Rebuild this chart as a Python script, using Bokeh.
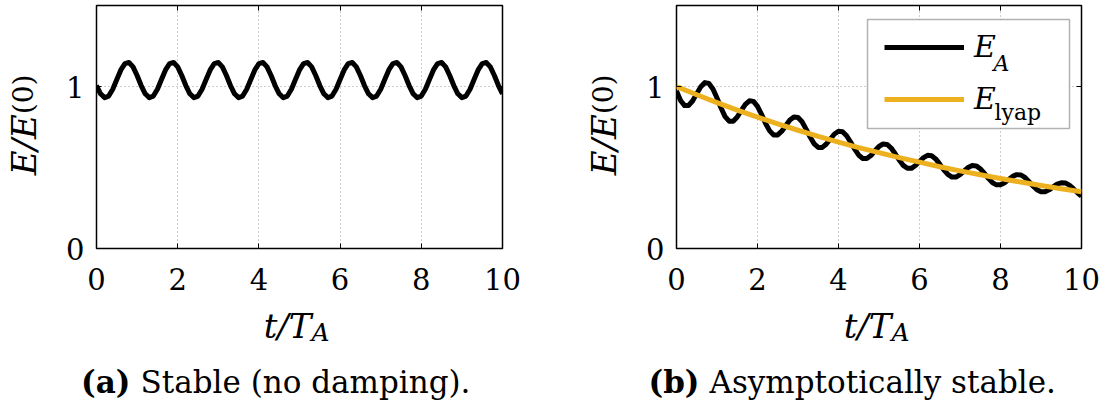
import math
from bokeh.plotting import figure
from bokeh.layouts import row, column
from bokeh.models import (Label, Legend, LegendItem, FixedTicker, Range1d,
                          BoxAnnotation, LinearAxis)
from bokeh.core.properties import value
from bokeh.embed import file_html
from bokeh.resources import INLINE

# ---------------- data ----------------
t = [i / 10 for i in range(101)]

e_stable = [
    1.006, 0.955, 0.931, 0.941, 0.983, 1.043, 1.102, 1.141, 1.148, 1.121, 1.068,
    1.006, 0.955, 0.931, 0.941, 0.983, 1.043, 1.102, 1.141, 1.148, 1.121, 1.068,
    1.006, 0.955, 0.931, 0.941, 0.983, 1.043, 1.102, 1.141, 1.148, 1.121, 1.068,
    1.006, 0.955, 0.931, 0.941, 0.983, 1.043, 1.102, 1.141, 1.148, 1.121, 1.068,
    1.006, 0.955, 0.931, 0.941, 0.983, 1.043, 1.102, 1.141, 1.148, 1.121, 1.068,
    1.006, 0.955, 0.931, 0.941, 0.983, 1.043, 1.102, 1.141, 1.148, 1.121, 1.068,
    1.006, 0.955, 0.931, 0.941, 0.983, 1.043, 1.102, 1.141, 1.148, 1.121, 1.068,
    1.006, 0.955, 0.931, 0.941, 0.983, 1.043, 1.102, 1.141, 1.148, 1.121, 1.068,
    1.006, 0.955, 0.931, 0.941, 0.983, 1.043, 1.102, 1.141, 1.148, 1.121, 1.068,
    1.006, 0.955,
]

e_damped = [
    0.973, 0.914, 0.882, 0.883, 0.912, 0.956, 0.999, 1.024, 1.019, 0.985, 0.929,
    0.867, 0.814, 0.786, 0.786, 0.812, 0.852, 0.890, 0.912, 0.908, 0.877, 0.828,
    0.772, 0.726, 0.700, 0.701, 0.724, 0.759, 0.793, 0.812, 0.809, 0.782, 0.737,
    0.688, 0.646, 0.624, 0.624, 0.645, 0.676, 0.707, 0.724, 0.721, 0.696, 0.657,
    0.613, 0.576, 0.556, 0.556, 0.574, 0.603, 0.630, 0.645, 0.642, 0.620, 0.585,
    0.546, 0.513, 0.495, 0.495, 0.512, 0.537, 0.561, 0.575, 0.572, 0.553, 0.521,
    0.486, 0.457, 0.441, 0.441, 0.456, 0.478, 0.500, 0.512, 0.510, 0.492, 0.465,
    0.433, 0.407, 0.393, 0.393, 0.406, 0.426, 0.445, 0.456, 0.454, 0.439, 0.414,
    0.386, 0.363, 0.350, 0.350, 0.362, 0.380, 0.397, 0.406, 0.405, 0.391, 0.369,
    0.344, 0.323,
]

t_lyap = [i / 2 for i in range(21)]
e_lyap = [1.000, 0.949, 0.900, 0.854, 0.811, 0.769, 0.730, 0.692, 0.657, 0.623,
          0.592, 0.561, 0.533, 0.505, 0.479, 0.455, 0.432, 0.410, 0.389, 0.369,
          0.350]

x_ticks = [0, 2, 4, 6, 8, 10]
y_ticks = [0, 1]
x_lim = (0, 10)
y_lim = (0, 1.5)

# ---------------- layout constants (page pixels) ----------------
FONT = "DejaVu Serif"
BLACK = "#000000"
YELLOW = "#EDB120"
COL_W = 553            # width of each panel column
TOP_H = 302            # height of the plot row
BOT_H = 103            # height of the text strip below
FRAME_TOP, FRAME_BOTTOM = 5, 248
FRAME_H = FRAME_BOTTOM - FRAME_TOP


def text_fig(w, h):
    f = figure(width=w, height=h, x_range=Range1d(0, w), y_range=Range1d(0, h),
               output_backend="svg", toolbar_location=None,
               x_axis_location=None, y_axis_location=None, min_border=0)
    f.outline_line_color = None
    f.grid.visible = False
    f.background_fill_color = "white"
    f.border_fill_color = "white"
    return f


def label(f, x, y, text, size, style="normal", align="left",
          baseline="alphabetic", angle=0.0):
    f.add_layout(Label(x=x, y=y, x_units="data", y_units="data", text=text,
                       text_font=FONT, text_font_size=size,
                       text_font_style=style, text_color=BLACK,
                       text_align=align, text_baseline=baseline,
                       angle=angle))


def style_axis(ax):
    ax.axis_line_color = None
    ax.major_tick_in = 5
    ax.major_tick_out = 0
    ax.major_tick_line_color = BLACK
    ax.major_tick_line_width = 1
    ax.minor_tick_line_color = None


def plot_fig(width, frame_left, frame_w):
    p = figure(width=width, height=TOP_H,
               x_range=Range1d(*x_lim), y_range=Range1d(*y_lim),
               output_backend="svg", toolbar_location=None,
               min_border_left=frame_left, min_border_right=width - frame_left - frame_w,
               min_border_top=FRAME_TOP,
               min_border_bottom=TOP_H - FRAME_BOTTOM)
    p.background_fill_color = "white"
    p.border_fill_color = "white"
    p.outline_line_color = BLACK
    p.outline_line_width = 1.5

    p.xaxis.ticker = FixedTicker(ticks=x_ticks)
    p.yaxis.ticker = FixedTicker(ticks=y_ticks)
    for ax in (p.xaxis[0], p.yaxis[0]):
        style_axis(ax)
        ax.major_label_text_font = FONT
        ax.major_label_text_font_size = "29px"
        ax.major_label_text_color = BLACK
    p.xaxis.major_label_standoff = 19
    p.yaxis.major_label_standoff = 12

    # mirrored inward ticks on the top and right edges (no labels)
    for loc, ticks in (("above", x_ticks), ("right", y_ticks)):
        ax = LinearAxis(ticker=FixedTicker(ticks=ticks),
                        major_label_overrides={k: "" for k in ticks},
                        major_label_text_font_size="1px",
                        major_label_standoff=0)
        style_axis(ax)
        p.add_layout(ax, loc)

    p.xgrid.ticker = FixedTicker(ticks=x_ticks)
    p.ygrid.ticker = FixedTicker(ticks=y_ticks)
    for g in (p.xgrid[0], p.ygrid[0]):
        g.grid_line_color = "#9a9a9a"
        g.grid_line_dash = "1 3"
        g.grid_line_width = 1
    return p


def y_label_fig(w, x_center):
    f = text_fig(w, TOP_H)
    junction = 135          # y where "E/E" meets "(0)" (from the top)
    label(f, x_center, TOP_H - junction, "E/E", "34px", "italic", "right",
          "middle", math.pi / 2)
    label(f, x_center, TOP_H - junction, "(0)", "28px", "normal", "left",
          "middle", math.pi / 2)
    return f


def bottom_fig(x_junction, cap_junction, cap_bold, cap_rest):
    f = text_fig(COL_W, BOT_H)
    # distances measured from the top of this strip
    label(f, x_junction, BOT_H - 23, "t/T", "34px", "italic", "right")
    label(f, x_junction, BOT_H - 30, "A", "25px", "italic", "left")
    label(f, cap_junction, BOT_H - 79, cap_bold, "31px", "bold", "right")
    label(f, cap_junction + 10, BOT_H - 79, cap_rest, "31px", "normal", "left")
    return f


# ---------------- panel (a) ----------------
YL_A = 45
ylab_a = y_label_fig(YL_A, 23)
pa = plot_fig(COL_W - YL_A, 96 - YL_A, 406)
pa.line(t, e_stable, line_color=BLACK, line_width=5, line_join="round")
bot_a = bottom_fig(311, 130, "(a)", "Stable (no damping).")

# ---------------- panel (b) ----------------
YL_B = 70
ylab_b = y_label_fig(YL_B, 603 - COL_W)
pb = plot_fig(COL_W - YL_B, 676 - COL_W - YL_B, 405)
rb_black = pb.line(t, e_damped, line_color=BLACK, line_width=5,
                   line_join="round")
rb_yellow = pb.line(t_lyap, e_lyap, line_color=YELLOW, line_width=5,
                    line_join="round")
bot_b = bottom_fig(891 - COL_W, 699 - COL_W, "(b)", "Asymptotically stable.")

# legend of panel (b)
FL_B = 676                       # page x of frame left


def bx(px):
    return (px - FL_B) / 405 * (x_lim[1] - x_lim[0])


def by(py):
    return (FRAME_BOTTOM - py) / FRAME_H * (y_lim[1] - y_lim[0])


box = BoxAnnotation(left=bx(867), right=bx(1069), top=by(19), bottom=by(128),
                    fill_color="white", fill_alpha=1,
                    line_color=BLACK, line_width=1.5)
pb.add_layout(box)

legend = Legend(items=[LegendItem(label=value("E"), renderers=[rb_black]),
                       LegendItem(label=value("E"), renderers=[rb_yellow])],
                location=(884 - FL_B, 132), orientation="vertical",
                padding=10, spacing=17, glyph_width=80, glyph_height=20,
                label_standoff=10,
                label_text_font=FONT, label_text_font_size="30px",
                label_text_font_style="italic", label_text_color=BLACK,
                border_line_color=None, background_fill_alpha=0)
pb.add_layout(legend)
label(pb, bx(993), by(62.5), "A", "22px", "italic")
label(pb, bx(994), by(112), "lyap", "22px", "normal")

layout = row(column(row(ylab_a, pa), bot_a), column(row(ylab_b, pb), bot_b))
open("out.html", "w").write(file_html(layout, INLINE))
